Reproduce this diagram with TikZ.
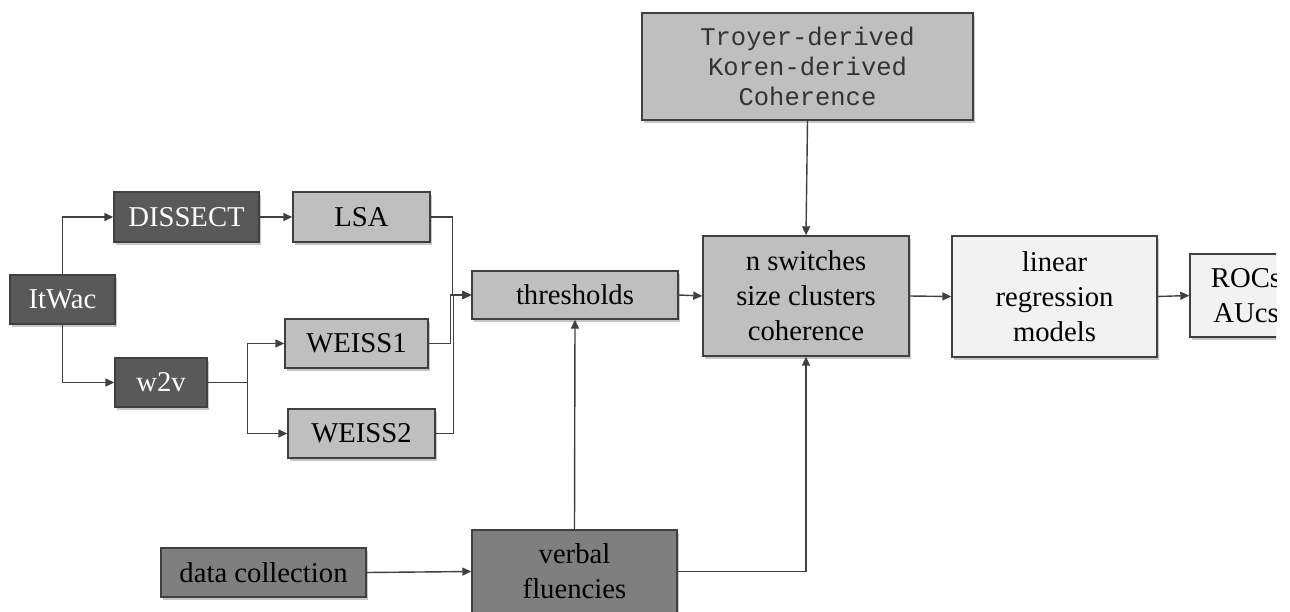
\documentclass[tikz,border=0pt]{standalone}
\usepackage{fontspec}
\setmainfont{Liberation Serif}
\newfontfamily\codefont{Liberation Mono}
\usetikzlibrary{arrows.meta,shadows}

\definecolor{edgegray}{HTML}{404040}
\definecolor{darkfill}{HTML}{595959}
\definecolor{midfill}{HTML}{7F7F7F}
\definecolor{lightfill}{HTML}{BFBFBF}
\definecolor{palefill}{HTML}{F2F2F2}

\tikzset{
  box/.style={draw=edgegray, line width=1.4pt, rectangle, inner sep=0pt,
    align=center, font=\fontsize{28.7}{35}\selectfont,
    drop shadow={shadow xshift=2pt, shadow yshift=-3pt, fill=black, opacity=0.22}},
  darkbox/.style={box, fill=darkfill, text=white},
  midbox/.style={box, fill=midfill, text=black},
  lightbox/.style={box, fill=lightfill, text=black},
  palebox/.style={box, fill=palefill, text=black},
  link/.style={draw=edgegray, line width=1.4pt},
  arr/.style={link, -{Triangle[length=9pt,width=8pt]}},
}

\begin{document}
\begin{tikzpicture}[x=1pt, y=-1pt]
\useasboundingbox (0,0) rectangle (1290,611);
\fill[white] (0,0) rectangle (1290,611);
\begin{scope}
\clip (0,0) rectangle (1276,611);

% corpus and embedding models
\node[darkbox, minimum width=105pt, minimum height=49pt] (itwac) at (62.5,299.5) {ItWac};
\node[darkbox, minimum width=145pt, minimum height=50pt] (dissect) at (186.5,217) {DISSECT};
\node[darkbox, minimum width=92pt, minimum height=49pt] (w2v) at (161,382.5) {w2v};
\node[lightbox, minimum width=137pt, minimum height=50pt] (lsa) at (361.5,217) {LSA};
\node[lightbox, minimum width=143pt, minimum height=49pt] (weiss1) at (356.5,343.5) {WEISS1};
\node[lightbox, minimum width=147pt, minimum height=49pt] (weiss2) at (361.5,433.5) {WEISS2};

% central pipeline
\node[lightbox, minimum width=206pt, minimum height=48pt] (thr) at (575,295) {thresholds};
\node[lightbox, minimum width=206pt, minimum height=120pt] (nsw) at (806,296) {n switches\\size clusters\\coherence};
\node[palebox, minimum width=205pt, minimum height=121pt] (linreg) at (1054.5,296.5) {linear\\regression\\models};
\node[palebox, minimum width=112pt, minimum height=83pt] (rocs) at (1246,295.5) {ROCs\\AUcs};
\node[lightbox, minimum width=331pt, minimum height=107pt,
      font=\codefont\fontsize{25.5}{30}\selectfont, text=black!80] (measures) at (807.5,66.5)
      {Troyer-derived\\Koren-derived\\Coherence};

% data sources
\node[midbox, minimum width=205pt, minimum height=49pt] (data) at (263.5,572.5) {data collection};
\node[midbox, minimum width=205pt, minimum height=83pt] (verbal) at (574.5,571.5) {verbal\\fluencies};

% connectors
\draw[arr] (itwac.north) |- (dissect.west);
\draw[arr] (itwac.south) |- (w2v.west);
\draw[arr] (dissect.east) -- (lsa.west);
\draw[arr] (w2v.east) -- ++(40,0) |- (weiss1.west);
\draw[arr] (w2v.east) -- ++(40,0) |- (weiss2.west);
\draw[arr] (lsa.east) -- ++(22,0) |- (thr.west);
\draw[arr] (weiss1.east) -- ++(22,0) |- (thr.west);
\draw[arr] (weiss2.east) -- ++(18,0) |- (thr.west);
\draw[arr] (thr.east) -- (nsw.west);
\draw[arr] (measures.south) -- (nsw.north);
\draw[arr] (nsw.east) -- (linreg.west);
\draw[arr] (linreg.east) -- (rocs.west);
\draw[arr] (data.east) -- (verbal.west);
\draw[arr] (verbal.north) -- (thr.south);
\draw[arr] (verbal.east) -| (nsw.south);
\end{scope}
\end{tikzpicture}
\end{document}
